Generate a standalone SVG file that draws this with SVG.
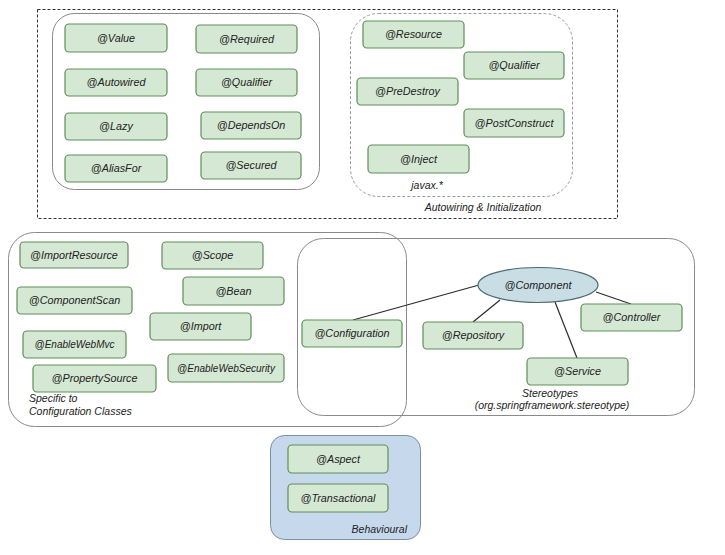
<svg xmlns="http://www.w3.org/2000/svg" width="725" height="555" viewBox="0 0 725 555">
  <style>
    .node rect { fill: #d5e8d4; stroke: #5f8d57; stroke-width: 1.2; }
    .lbl { font-family: "Liberation Sans", Arial, sans-serif; font-style: italic; font-size: 10.8px; fill: #222; text-anchor: middle; }
    .cap { font-family: "Liberation Sans", Arial, sans-serif; font-style: italic; font-size: 10.5px; fill: #222; }
    .grp { fill: none; stroke: #8a8a8a; stroke-width: 1; }
    .edge { stroke: #2a2a2a; stroke-width: 1.2; fill: none; }
  </style>
  <rect width="725" height="555" fill="#ffffff"/>

  <!-- Autowiring & Initialization area -->
  <g id="autowiring">
    <rect x="37.5" y="9.5" width="580" height="209" fill="none" stroke="#333" stroke-width="1" stroke-dasharray="3,2"/>
    <rect class="grp" x="52.5" y="13.5" width="267" height="176" rx="22"/>
    <rect x="350.5" y="13.5" width="222" height="183" rx="28" fill="none" stroke="#9a9a9a" stroke-width="1" stroke-dasharray="3,2"/>
    <text class="cap" x="427" y="189" text-anchor="middle">javax.*</text>
    <text class="cap" x="483" y="211" text-anchor="middle">Autowiring &amp; Initialization</text>
  </g>

  <g id="n-value" class="node"><rect x="65" y="24" width="102" height="28" rx="4"/><text class="lbl" x="116" y="42">@Value</text></g>
  <g id="n-required" class="node"><rect x="196" y="25" width="101" height="28" rx="4"/><text class="lbl" x="246.5" y="43">@Required</text></g>
  <g id="n-autowired" class="node"><rect x="65" y="69" width="102" height="27" rx="4"/><text class="lbl" x="116" y="86">@Autowired</text></g>
  <g id="n-qualifier" class="node"><rect x="196" y="69" width="101" height="27" rx="4"/><text class="lbl" x="246.5" y="86">@Qualifier</text></g>
  <g id="n-lazy" class="node"><rect x="65" y="113" width="102" height="27" rx="4"/><text class="lbl" x="116" y="130">@Lazy</text></g>
  <g id="n-dependson" class="node"><rect x="201" y="112" width="100" height="27" rx="4"/><text class="lbl" x="251" y="129">@DependsOn</text></g>
  <g id="n-aliasfor" class="node"><rect x="65" y="155" width="102" height="27" rx="4"/><text class="lbl" x="116" y="172">@AliasFor</text></g>
  <g id="n-secured" class="node"><rect x="201" y="152" width="100" height="27" rx="4"/><text class="lbl" x="251" y="169">@Secured</text></g>

  <g id="n-resource" class="node"><rect x="363" y="21" width="101" height="27" rx="4"/><text class="lbl" x="413.5" y="38">@Resource</text></g>
  <g id="n-qualifier-javax" class="node"><rect x="464" y="52" width="100" height="27" rx="4"/><text class="lbl" x="514" y="69">@Qualifier</text></g>
  <g id="n-predestroy" class="node"><rect x="357" y="78" width="101" height="27" rx="4"/><text class="lbl" x="407.5" y="95">@PreDestroy</text></g>
  <g id="n-postconstruct" class="node"><rect x="464" y="109" width="100" height="28" rx="4"/><text class="lbl" x="514" y="127">@PostConstruct</text></g>
  <g id="n-inject" class="node"><rect x="368" y="145" width="101" height="28" rx="4"/><text class="lbl" x="418.5" y="163">@Inject</text></g>

  <!-- Configuration classes and stereotypes areas -->
  <g id="configuration-area">
    <rect class="grp" x="8.5" y="232.5" width="398" height="194" rx="26"/>
    <text class="cap" x="29" y="402">Specific to</text>
    <text class="cap" x="29" y="415">Configuration Classes</text>
  </g>
  <g id="stereotypes-area">
    <rect class="grp" x="297.5" y="238.5" width="397" height="177" rx="26"/>
    <text class="cap" x="550" y="397" text-anchor="middle">Stereotypes</text>
    <text class="cap" x="552" y="409" text-anchor="middle">(org.springframework.stereotype)</text>
  </g>

  <g id="n-importresource" class="node"><rect x="20" y="242" width="108" height="26" rx="4"/><text class="lbl" x="74" y="259">@ImportResource</text></g>
  <g id="n-scope" class="node"><rect x="162" y="242" width="101" height="27" rx="4"/><text class="lbl" x="212.5" y="259">@Scope</text></g>
  <g id="n-bean" class="node"><rect x="183" y="277" width="101" height="28" rx="4"/><text class="lbl" x="233.5" y="295">@Bean</text></g>
  <g id="n-componentscan" class="node"><rect x="17" y="287" width="115" height="27" rx="4"/><text class="lbl" x="74.5" y="304">@ComponentScan</text></g>
  <g id="n-import" class="node"><rect x="150" y="313" width="101" height="27" rx="4"/><text class="lbl" x="200.5" y="330">@Import</text></g>
  <g id="n-enablewebmvc" class="node"><rect x="23" y="331" width="103" height="27" rx="4"/><text class="lbl" x="74.5" y="348" style="font-size:10px">@EnableWebMvc</text></g>
  <g id="n-enablewebsecurity" class="node"><rect x="168" y="354" width="116" height="28" rx="4"/><text class="lbl" x="226" y="372" style="font-size:10px">@EnableWebSecurity</text></g>
  <g id="n-propertysource" class="node"><rect x="33" y="365" width="123" height="27" rx="4"/><text class="lbl" x="94.5" y="382">@PropertySource</text></g>

  <!-- connectors to @Component -->
  <g id="connectors">
    <line class="edge" x1="353" y1="320" x2="479" y2="285"/>
    <line class="edge" x1="473" y1="322" x2="500" y2="300"/>
    <line class="edge" x1="577" y1="358" x2="555" y2="302"/>
    <line class="edge" x1="631" y1="304" x2="596" y2="292"/>
  </g>

  <g id="n-component"><ellipse cx="538" cy="285" rx="60" ry="17.5" fill="#c9dde4" stroke="#4f6a75" stroke-width="1.2"/><text class="lbl" x="538" y="289">@Component</text></g>
  <g id="n-configuration" class="node"><rect x="302" y="320" width="100" height="27" rx="4"/><text class="lbl" x="352" y="337">@Configuration</text></g>
  <g id="n-repository" class="node"><rect x="423" y="322" width="100" height="27" rx="4"/><text class="lbl" x="473" y="339">@Repository</text></g>
  <g id="n-controller" class="node"><rect x="581" y="304" width="101" height="27" rx="4"/><text class="lbl" x="631.5" y="321">@Controller</text></g>
  <g id="n-service" class="node"><rect x="527" y="358" width="101" height="27" rx="4"/><text class="lbl" x="577.5" y="375">@Service</text></g>

  <!-- Behavioural area -->
  <g id="behavioural-area">
    <rect x="270.5" y="435.5" width="150" height="104" rx="14" fill="#c6d9ec" stroke="#7d8fa3" stroke-width="1"/>
    <text class="cap" x="407" y="533" text-anchor="end">Behavioural</text>
  </g>
  <g id="n-aspect" class="node"><rect x="288" y="445" width="100" height="28" rx="4"/><text class="lbl" x="338" y="463">@Aspect</text></g>
  <g id="n-transactional" class="node"><rect x="288" y="484" width="100" height="28" rx="4"/><text class="lbl" x="338" y="502">@Transactional</text></g>
</svg>
